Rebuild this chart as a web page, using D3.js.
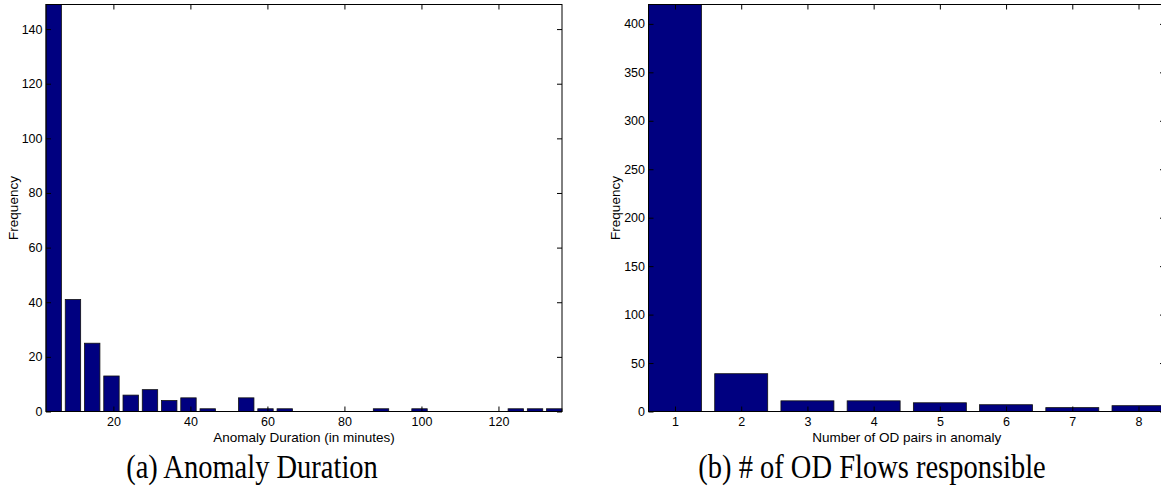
<!DOCTYPE html>
<html>
<head>
<meta charset="utf-8">
<script src="https://cdn.jsdelivr.net/npm/d3@7"></script>
<style>
  body { margin: 0; background: #fff; }
  svg { display: block; }
  .tick text { font-family: "Liberation Sans", Arial, sans-serif; font-size: 12.5px; fill: #000; }
  .tick line { stroke: #000; }
  .lbl { font-family: "Liberation Sans", Arial, sans-serif; font-size: 13.5px; fill: #000; }
  .cap { font-family: "Liberation Serif", "Times New Roman", serif; font-size: 28.5px; fill: #000; }
</style>
</head>
<body>
<div id="chart"></div>
<script>
const FRAME_WIDTH = 1161;
const FRAME_HEIGHT = 489;

// (a) anomaly duration histogram
const durationBins = [4.5, 9.5, 14.5, 19.5, 24.5, 29.5, 34.5, 39.5, 44.5, 49.5, 54.5, 59.5, 64.5, 69.5,
                      74.5, 79.5, 84.5, 89.5, 94.5, 99.5, 104.5, 109.5, 114.5, 119.5, 124.5, 129.5, 134.5];
const durationCounts = [149, 41, 25, 13, 6, 8, 4, 5, 1, 0, 5, 1, 1, 0,
                        0, 0, 0, 1, 0, 1, 0, 0, 0, 0, 1, 1, 1];
const durationXTicks = [20, 40, 60, 80, 100, 120];
const durationYTicks = [0, 20, 40, 60, 80, 100, 120, 140];

// (b) number of OD flows
const odPairs = [1, 2, 3, 4, 5, 6, 7, 8];
const odCounts = [420, 39, 11, 11, 9, 7, 4, 6];
const odYTicks = [0, 50, 100, 150, 200, 250, 300, 350, 400];

const SVG = d3.select("#chart")
              .append("svg")
                .attr("width", FRAME_WIDTH)
                .attr("height", FRAME_HEIGHT);

function build_hist(opts) {
  const X_SCALE = d3.scaleLinear()
                    .domain(opts.xDomain)
                    .range([opts.left, opts.right]);
  const Y_SCALE = d3.scaleLinear()
                    .domain(opts.yDomain)
                    .range([opts.bottom, opts.top]);

  const g = SVG.append("g");
  const half = opts.barWidth / 2;

  g.selectAll(".bar")
      .data(opts.xs)
      .enter()
      .append("rect")
        .attr("x", (d) => X_SCALE(d - half))
        .attr("y", (d, i) => Y_SCALE(opts.ys[i]))
        .attr("width", (d) => X_SCALE(d + half) - X_SCALE(d - half))
        .attr("height", (d, i) => opts.bottom - Y_SCALE(opts.ys[i]))
        .attr("fill", "#000080")
        .attr("stroke", "#111")
        .attr("stroke-width", 0.8);

  // inward ticks, matlab style
  g.append("g")
    .attr("transform", "translate(0," + opts.bottom + ")")
    .call(d3.axisBottom(X_SCALE).tickValues(opts.xTicks).tickSizeInner(-5).tickSizeOuter(0).tickPadding(5.5))
    .call((a) => a.select(".domain").remove());
  g.append("g")
    .attr("transform", "translate(0," + opts.top + ")")
    .call(d3.axisTop(X_SCALE).tickValues(opts.xTicks).tickSizeInner(-5).tickSizeOuter(0).tickFormat(""))
    .call((a) => a.select(".domain").remove());
  g.append("g")
    .attr("transform", "translate(" + opts.left + ",0)")
    .call(d3.axisLeft(Y_SCALE).tickValues(opts.yTicks).tickSizeInner(-5).tickSizeOuter(0).tickPadding(3.5))
    .call((a) => a.select(".domain").remove());
  g.append("g")
    .attr("transform", "translate(" + opts.right + ",0)")
    .call(d3.axisRight(Y_SCALE).tickValues(opts.yTicks).tickSizeInner(-5).tickSizeOuter(0).tickFormat(""))
    .call((a) => a.select(".domain").remove());

  g.append("rect")
    .attr("x", opts.left)
    .attr("y", opts.top)
    .attr("width", opts.right - opts.left)
    .attr("height", opts.bottom - opts.top)
    .attr("fill", "none")
    .attr("stroke", "#000")
    .attr("stroke-width", 1);

  const mid = (opts.left + opts.right) / 2;
  g.append("text")
    .attr("class", "lbl")
    .attr("x", mid)
    .attr("y", 442)
    .attr("text-anchor", "middle")
    .text(opts.xLabel);

  g.append("text")
    .attr("class", "lbl")
    .attr("transform", "translate(" + opts.yLabelX + "," + ((opts.top + opts.bottom) / 2) + ") rotate(-90)")
    .attr("text-anchor", "middle")
    .text("Frequency");

  g.append("text")
    .attr("class", "cap")
    .attr("transform", "translate(" + opts.capX + ",478) scale(1,1.2)")
    .attr("text-anchor", "middle")
    .text(opts.caption);
}

build_hist({
  xs: durationBins, ys: durationCounts, barWidth: 4,
  xDomain: [2.5, 136.5], yDomain: [0, 149],
  xTicks: durationXTicks, yTicks: durationYTicks,
  left: 46, right: 562, top: 4.5, bottom: 411.5,
  xLabel: "Anomaly Duration (in minutes)", yLabelX: 18,
  caption: "(a) Anomaly Duration", capX: 252
});

build_hist({
  xs: odPairs, ys: odCounts, barWidth: 0.8,
  xDomain: [0.6, 8.4], yDomain: [0, 420],
  xTicks: odPairs, yTicks: odYTicks,
  left: 648.5, right: 1165, top: 4.5, bottom: 411.5,
  xLabel: "Number of OD pairs in anomaly", yLabelX: 620,
  caption: "(b) # of OD Flows responsible", capX: 872
});
</script>
</body>
</html>
